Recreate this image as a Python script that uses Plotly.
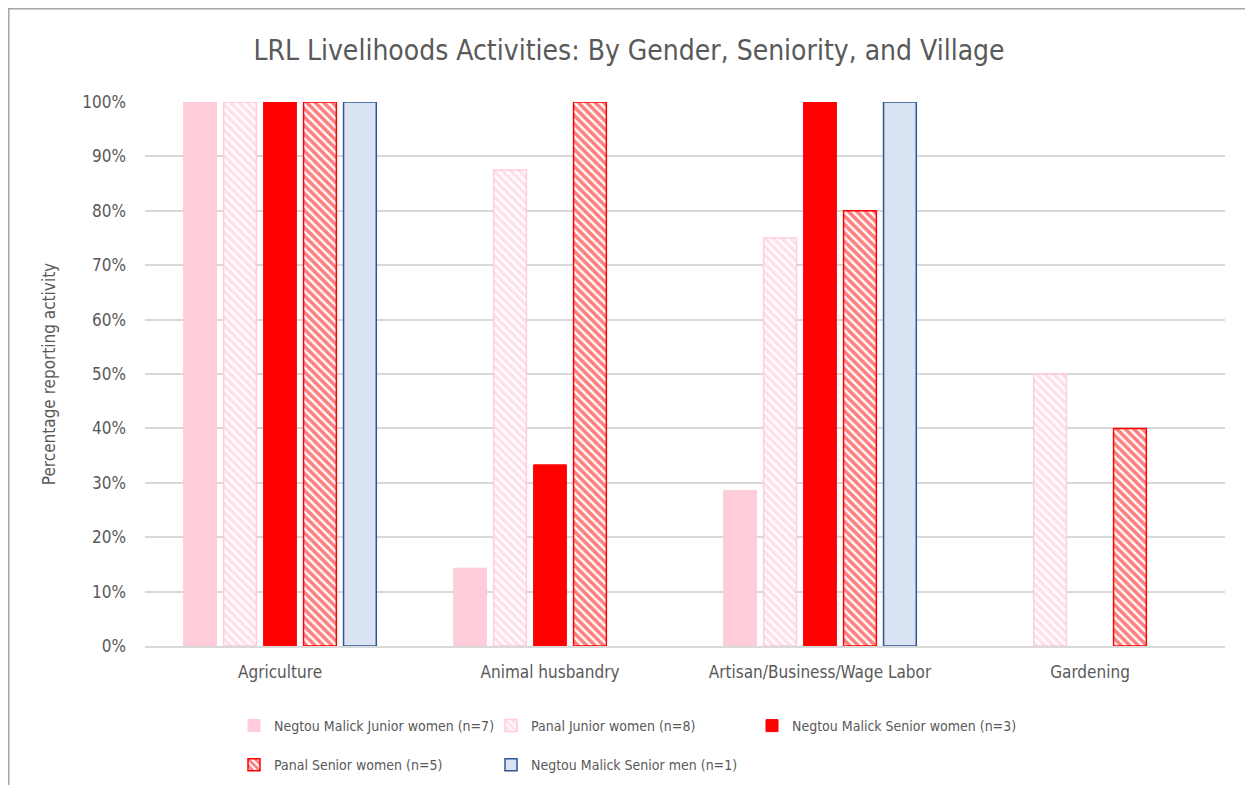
import plotly.graph_objects as go

categories = ["Agriculture", "Animal husbandry", "Artisan/Business/Wage Labor", "Gardening"]
series_names = [
    "Negtou Malick Junior women (n=7)",
    "Panal Junior women (n=8)",
    "Negtou Malick Senior women (n=3)",
    "Panal Senior women (n=5)",
    "Negtou Malick Senior men (n=1)",
]
nm_junior_women = [1.0, 0.143, 0.286, 0.0]
panal_junior_women = [1.0, 0.875, 0.75, 0.5]
nm_senior_women = [1.0, 0.333, 1.0, 0.0]
panal_senior_women = [1.0, 1.0, 0.8, 0.4]
nm_senior_men = [1.0, 0.0, 1.0, 0.0]
tick_vals = [i / 10 for i in range(11)]
tick_text = [f"{i*10}%" for i in range(11)]

FONT = "DejaVu Sans Condensed, Liberation Sans Narrow, Roboto, sans-serif"
GREY = "#595959"

styles = [
    dict(marker=dict(color="#FFCCD9", line=dict(color="#FFCCD9", width=1))),
    dict(marker=dict(color="#FFCCD9", line=dict(color="#FFCCD9", width=1.5),
                     pattern=dict(shape="\\", fgcolor="#FFC2D1", bgcolor="white", size=6, solidity=0.6, fillmode="overlay"))),
    dict(marker=dict(color="#FF0000", line=dict(color="#FF0000", width=1))),
    dict(marker=dict(color="#FF0000", line=dict(color="#FF0000", width=1.5),
                     pattern=dict(shape="\\", fgcolor="#FF0000", bgcolor="white", size=6, solidity=0.6, fillmode="overlay"))),
    dict(marker=dict(color="#DAE3F3", line=dict(color="#2F5597", width=1.5))),
]
data = [nm_junior_women, panal_junior_women, nm_senior_women, panal_senior_women, nm_senior_men]
# legend column for each series (reference lays the legend out in 3 columns, 2 rows)
legend_ids = ["legend", "legend2", "legend3", "legend", "legend2"]

# page body has an 8px margin, so the figure is drawn 8px in from the top-left
W, H = 1237, 777
L, R_EDGE, T, B_EDGE = 137, 1217, 94, 638
PW, PH = R_EDGE - L, B_EDGE - T

fig = go.Figure()
for i, (name, vals, st, lg) in enumerate(zip(series_names, data, styles, legend_ids)):
    fig.add_trace(go.Bar(x=categories, y=[v if v > 0 else None for v in vals], name=name,
                         legend=lg, legendgroup=f"g{i}", **st))

def leg(sym_left_screen):
    return dict(orientation="v", x=(sym_left_screen - 8 - 15 - L) / PW, xanchor="left",
                y=-(710 - 8 - B_EDGE) / PH, yanchor="top",
                font=dict(size=14, color=GREY, family=FONT), itemwidth=30,
                tracegroupgap=18, traceorder="grouped", bgcolor="rgba(0,0,0,0)")

fig.update_layout(
    width=W, height=H,
    barmode="group", bargap=0.26, bargroupgap=0.18,
    plot_bgcolor="white", paper_bgcolor="white",
    font=dict(family=FONT, color=GREY, size=16),
    margin=dict(l=L, r=W - R_EDGE, t=T, b=H - B_EDGE, autoexpand=False),
    title=dict(text="LRL Livelihoods Activities: By Gender, Seniority, and Village",
               x=(629 - 8) / W, xanchor="center", y=1 - (42 / H), yanchor="middle",
               font=dict(family=FONT, size=28, color=GREY)),
    yaxis=dict(range=[0, 1.0], tickvals=tick_vals, ticktext=tick_text,
               gridcolor="#D9D9D9", gridwidth=1.5, zeroline=False, automargin=False,
               ticks="", ticklabelstandoff=18,
               title=dict(text="Percentage reporting activity", font=dict(size=17, color=GREY), standoff=22),
               tickfont=dict(size=17, color=GREY)),
    xaxis=dict(showline=True, linecolor="#D9D9D9", linewidth=1.5, ticks="", automargin=False,
               ticklabelstandoff=10, tickfont=dict(size=17, color=GREY)),
    legend=leg(249),
    legend2=leg(506),
    legend3=leg(767),
    shapes=[
        dict(type="line", xref="paper", yref="paper",
             x0=-(L - 0.75) / PW, x1=-(L - 0.75) / PW, y0=-(H - B_EDGE) / PH, y1=B_EDGE / PH,
             line=dict(color="#A6A6A6", width=1.5)),
        dict(type="line", xref="paper", yref="paper",
             x0=-L / PW, x1=(W - L) / PW, y0=(B_EDGE - 0.75) / PH, y1=(B_EDGE - 0.75) / PH,
             line=dict(color="#A6A6A6", width=1.5)),
    ],
)

fig.write_html("out.html")
